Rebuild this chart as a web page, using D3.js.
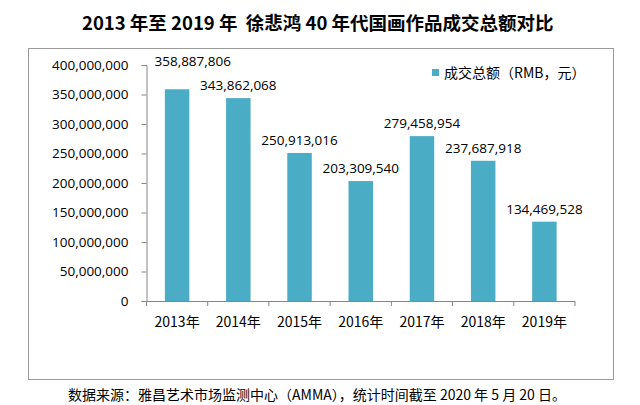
<!DOCTYPE html>
<html><head><meta charset="utf-8">
<script src="https://cdn.jsdelivr.net/npm/d3@7"></script>
<style>
html,body{margin:0;padding:0;background:#fff;}
svg{display:block;}
text{font-family:"Noto Sans CJK SC","Open Sans",sans-serif;}
.num{font-family:"Open Sans","Noto Sans CJK SC",sans-serif;}
</style></head>
<body>
<svg id="c" width="640" height="405"></svg>
<script>
const categories = ["2013年","2014年","2015年","2016年","2017年","2018年","2019年"];
const values = [358887806, 343862068, 250913016, 203309540, 279458954, 237687918, 134469528];
const yTicks = [0, 50000000, 100000000, 150000000, 200000000, 250000000, 300000000, 350000000, 400000000];
const seriesName = "成交总额（RMB，元）";
const titleText = "2013 年至 2019 年  徐悲鸿 40 年代国画作品成交总额对比";
const sourceText = "数据来源：雅昌艺术市场监测中心（AMMA），统计时间截至 2020 年 5 月 20 日。";

const svg = d3.select("#c");
const barColor = "#4BACC6";
const axisColor = "#868686";

// frame
svg.append("rect").attr("x",28.5).attr("y",48.5).attr("width",585).attr("height",331)
  .attr("fill","none").attr("stroke","#9a9a9a").attr("stroke-width",1);

// title
svg.append("text").attr("x",82).attr("y",30).attr("font-size",18.5).attr("font-weight","bold")
  .attr("fill","#000").style("white-space","pre").text(titleText);

// source
svg.append("text").attr("x",68).attr("y",400).attr("font-size",14).attr("fill","#000").text(sourceText);

const x0 = 146.5, x1 = 575, yTop = 65, yBot = 301;
const x = d3.scaleBand().domain(categories).range([x0,x1]).paddingInner(0.6).paddingOuter(0.3);
const y = d3.scaleLinear().domain([0,400000000]).range([yBot,yTop]);
const fmt = d3.format(",");

// y axis
const ya = svg.append("g").attr("transform",`translate(${x0},0)`)
  .call(d3.axisLeft(y).tickValues(yTicks).tickFormat(fmt).tickSize(5).tickPadding(13));
ya.select(".domain").attr("stroke",axisColor);
ya.selectAll(".tick line").attr("stroke",axisColor);
ya.selectAll(".tick text").attr("font-size",13.5).attr("fill","#000")
  .style("font-family","'Open Sans',sans-serif");

// bars
svg.append("g").selectAll("rect").data(values).join("rect")
  .attr("x",(d,i)=>x(categories[i])).attr("width",x.bandwidth())
  .attr("y",d=>y(d)).attr("height",d=>y(0)-y(d)).attr("fill",barColor);

// x axis
const xg = svg.append("g");
xg.append("line").attr("x1",x0).attr("x2",x1).attr("y1",yBot+0.5).attr("y2",yBot+0.5).attr("stroke",axisColor);
const boundaries = d3.range(categories.length+1).map(i=>x0 + i*(x1-x0)/categories.length);
xg.selectAll("line.t").data(boundaries).join("line").attr("class","t")
  .attr("x1",d=>d).attr("x2",d=>d).attr("y1",yBot).attr("y2",yBot+5).attr("stroke",axisColor);
xg.selectAll("text").data(categories).join("text")
  .attr("x",d=>x(d)+x.bandwidth()/2).attr("y",yBot+26).attr("text-anchor","middle")
  .attr("font-size",14).attr("fill","#000").text(d=>d);

// data labels
const labels = svg.append("g").selectAll("text").data(values).join("text")
  .attr("class","num")
  .attr("x",(d,i)=>x(categories[i])+x.bandwidth()/2).attr("y",d=>y(d)-8)
  .attr("text-anchor","middle").attr("font-size",13.5).attr("fill","#000")
  .text(d=>fmt(d));

// keep labels clear of the y axis and of each other
const nodes = labels.nodes();
nodes.forEach(n=>{
  const b = n.getBBox();
  if (b.x < x0 + 8) n.setAttribute("x", +n.getAttribute("x") + (x0 + 8 - b.x));
});
for (let i = nodes.length-2; i >= 0; i--) {
  const a = nodes[i].getBBox(), b = nodes[i+1].getBBox();
  const hOverlap = a.x + a.width > b.x && b.x + b.width > a.x;
  const vOverlap = a.y + a.height > b.y && b.y + b.height > a.y;
  if (hOverlap && vOverlap) {
    const shift = (a.y + a.height) - b.y + 6;
    nodes[i].setAttribute("y", +nodes[i].getAttribute("y") - shift);
  }
}

// legend
const lg = svg.append("g").attr("transform","translate(432,69)");
lg.append("rect").attr("width",7).attr("height",7).attr("fill",barColor);
lg.append("text").attr("x",12).attr("y",9).attr("font-size",14).attr("fill","#000").text(seriesName);
</script>
</body></html>
